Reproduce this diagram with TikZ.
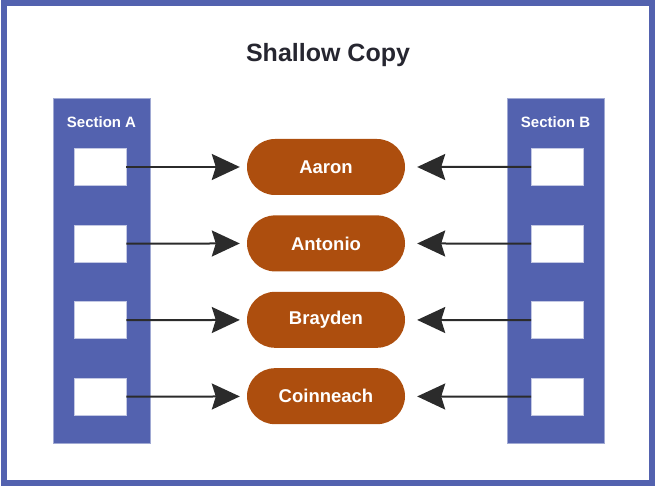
\documentclass[tikz,border=0pt]{standalone}
\usepackage{fontspec}
\setmainfont{Liberation Sans}
\usepackage{tikz}
\usetikzlibrary{arrows.meta, positioning, shapes.misc}

\definecolor{secblue}{HTML}{5362AF}
\definecolor{pillrust}{HTML}{AD4E0E}
\definecolor{titlegray}{HTML}{262630}
\definecolor{arrowgray}{HTML}{2B2B2B}

\begin{document}
\begin{tikzpicture}[
    x=1pt, y=1pt,
    section/.style={fill=secblue, draw=secblue!55!white, line width=0.6pt, minimum width=97pt, minimum height=345pt, inner sep=0pt},
    seclabel/.style={text=white, font=\fontsize{15}{18}\selectfont\bfseries, inner sep=0pt},
    slot/.style={fill=white, draw=secblue!35!white, line width=0.6pt, minimum width=52pt, minimum height=37pt, inner sep=0pt},
    pill/.style={rounded rectangle, fill=pillrust, text=white, minimum width=158pt, minimum height=56pt, inner sep=0pt, font=\fontsize{18.5}{22}\selectfont\bfseries},
    link/.style={draw=arrowgray, line width=2pt, -{Stealth[length=28pt, width=26pt, inset=4pt]}},
    slot distance/.store in=\slotdist, slot distance=39pt,
    pill distance/.store in=\pilldist, pill distance=20pt
]
    \useasboundingbox (0,0) rectangle (658,487);

    % Outer frame and title
    \draw[secblue, line width=6pt] (3.5,4.5) rectangle (652,484);
    \node[text=titlegray, font=\fontsize{25}{30}\selectfont\bfseries] (title) at (328,432) {Shallow Copy};

    % Section columns
    \node[section] (secA) at (101.5,216.5) {};
    \node[section] (secB) at (555.5,216.5) {};
    \node[seclabel, below=24pt of secA.north, anchor=center] (labA) {Section A};
    \node[seclabel, below=24pt of secB.north, anchor=center] (labB) {Section B};

    % Referenced objects - stacked pills
    \node[pill] (p1) at (326,320) {Aaron};
    \node[pill, below=\pilldist of p1] (p2) {Antonio};
    \node[pill, below=\pilldist of p2] (p3) {Brayden};
    \node[pill, below=\pilldist of p3] (p4) {Coinneach};

    % Slots of section A
    \node[slot] (a1) at (100,320) {};
    \node[slot, below=\slotdist of a1] (a2) {};
    \node[slot, below=\slotdist of a2] (a3) {};
    \node[slot, below=\slotdist of a3] (a4) {};

    % Slots of section B
    \node[slot] (b1) at (557.5,320) {};
    \node[slot, below=\slotdist of b1] (b2) {};
    \node[slot, below=\slotdist of b2] (b3) {};
    \node[slot, below=\slotdist of b3] (b4) {};

    % References from section A
    \draw[link, shorten >=7pt] (a1) -- (p1);
    \draw[link, shorten >=7pt] (a2) -- (p2);
    \draw[link, shorten >=7pt] (a3) -- (p3);
    \draw[link, shorten >=7pt] (a4) -- (p4);

    % References from section B
    \draw[link, shorten >=12pt] (b1) -- (p1);
    \draw[link, shorten >=12pt] (b2) -- (p2);
    \draw[link, shorten >=12pt] (b3) -- (p3);
    \draw[link, shorten >=12pt] (b4) -- (p4);
\end{tikzpicture}
\end{document}
